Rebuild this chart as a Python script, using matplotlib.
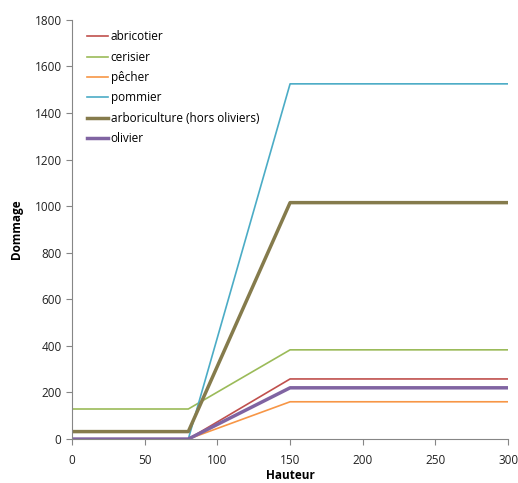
import matplotlib
matplotlib.use("Agg")
from matplotlib import pyplot as plt

plt.rcParams['font.family'] = ['Open Sans', 'DejaVu Sans']

hauteur = [0, 80, 150, 300]
abricotier = [0, 0, 258, 258]
cerisier = [129, 129, 383, 383]
pecher = [0, 0, 160, 160]
pommier = [0, 0, 1525, 1525]
arboriculture = [32, 32, 1015, 1015]
olivier = [0, 0, 220, 220]

fig = plt.figure(figsize=(5.18, 4.83), dpi=100)
ax = fig.add_axes([0.139, 0.091, 0.842, 0.868])

ax.plot(hauteur, abricotier, color='#C0504D', lw=1.2, label='abricotier')
ax.plot(hauteur, cerisier, color='#9BBB59', lw=1.2, label='cerisier')
ax.plot(hauteur, pecher, color='#F79646', lw=1.2, label='pêcher')
ax.plot(hauteur, pommier, color='#4BACC6', lw=1.2, label='pommier')
ax.plot(hauteur, arboriculture, color='#857B4C', lw=2.5, label='arboriculture (hors oliviers)')
ax.plot(hauteur, olivier, color='#8064A2', lw=2.5, label='olivier')

ax.set_xlim(0, 300)
ax.set_ylim(0, 1800)
ax.set_xticks(range(0, 301, 50))
ax.set_yticks(range(0, 1801, 200))
for s in ['top', 'right']:
    ax.spines[s].set_visible(False)
for s in ['left', 'bottom']:
    ax.spines[s].set_color('#868686')
ax.tick_params(colors='#868686', labelcolor='#222222', labelsize=8.5, direction='out', length=4)
ax.tick_params(axis='x', pad=7)

ax.set_xlabel('Hauteur', fontsize=8.5, fontweight='bold', labelpad=1)
ax.set_ylabel('Dommage', fontsize=8.5, fontweight='bold', labelpad=8)

ax.legend(loc='upper left', frameon=False, fontsize=8.5, handlelength=1.8,
          handletextpad=0.2, labelspacing=0.62, bbox_to_anchor=(0.01, 1.0))

fig.savefig('out.png', dpi=100)
